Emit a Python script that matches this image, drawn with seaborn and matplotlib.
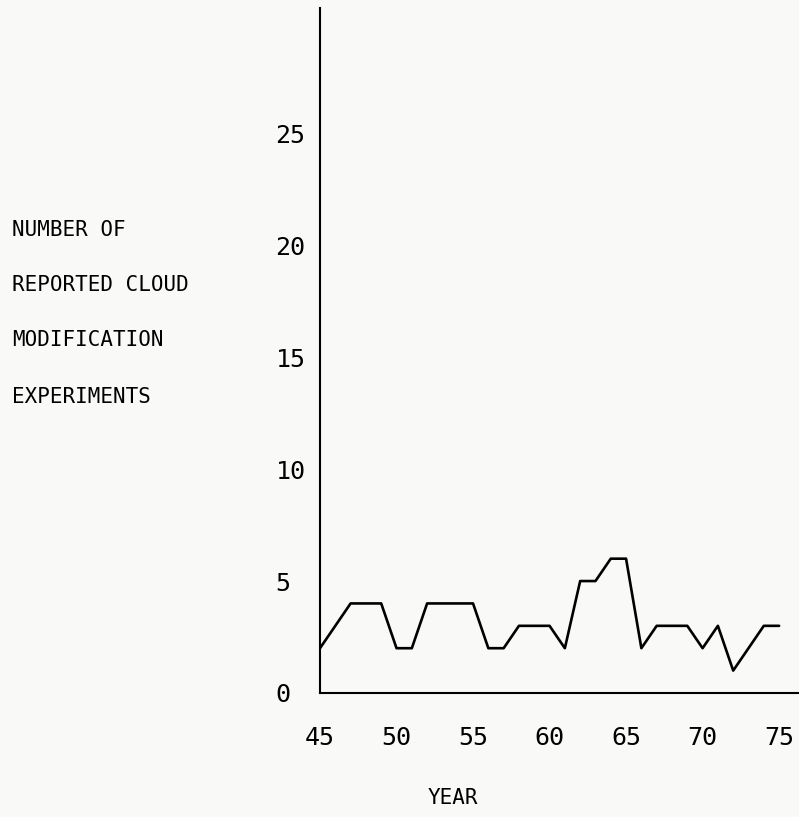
import pandas as pd
import matplotlib
matplotlib.use("Agg")
import matplotlib.pyplot as plt
import seaborn as sns

# Data (year = 19xx)
years = list(range(45, 76))
experiments = [2, 3, 4, 4, 4, 2, 2, 4, 4, 4, 4, 2, 2, 3, 3, 3,
               2, 5, 5, 6, 6, 2, 3, 3, 3, 2, 3, 1, 2, 3, 3]
x_ticks = [45, 50, 55, 60, 65, 70, 75]
y_ticks = [0, 5, 10, 15, 20, 25]
y_tick_labels = ["0", "5", "10", "15", "20", "25"]
ylabel_lines = ["NUMBER OF", "REPORTED CLOUD", "MODIFICATION", "EXPERIMENTS"]

df = pd.DataFrame({"Year": years, "Experiments": experiments})

sns.set_style("white")
plt.rcParams["font.family"] = ["DejaVu Sans Mono", "DejaVu Sans"]
plt.rcParams["text.color"] = "black"
plt.rcParams["xtick.color"] = "black"
plt.rcParams["ytick.color"] = "black"
bg = "#f9f9f8"

fig = plt.figure(figsize=(7.99, 8.17), dpi=100, facecolor=bg)
ax = fig.add_axes([0.4005, 0.1518, 0.5995, 0.8384], facecolor=bg)

sns.lineplot(data=df, x="Year", y="Experiments", ax=ax, color="black", linewidth=1.9)

ax.set_xlim(45, 76.3)
ax.set_ylim(0, 30.6)
ax.set_xticks(x_ticks)
ax.set_xticklabels([str(v) for v in x_ticks], fontsize=18, color="black")
ax.set_yticks(y_ticks)
ax.set_yticklabels(y_tick_labels, fontsize=18, ha="left", color="black")
ax.tick_params(axis="x", length=0, pad=24)
ax.tick_params(axis="y", length=0, pad=32)
ax.set_xlabel("")
ax.set_ylabel("")

for side in ["top", "right"]:
    ax.spines[side].set_visible(False)
for side in ["left", "bottom"]:
    ax.spines[side].set_color("black")
    ax.spines[side].set_linewidth(1.5)

# multi-line y label placed like the original typewriter text
for line, ypix in zip(ylabel_lines, [230, 285, 340, 397]):
    fig.text(12 / 799, 1 - ypix / 817, line, ha="left", va="center",
             fontsize=15, color="black")
fig.text(453 / 799, 1 - 798 / 817, "YEAR", ha="center", va="center",
         fontsize=15, color="black")

fig.savefig("out.png", dpi=100, facecolor=bg)
